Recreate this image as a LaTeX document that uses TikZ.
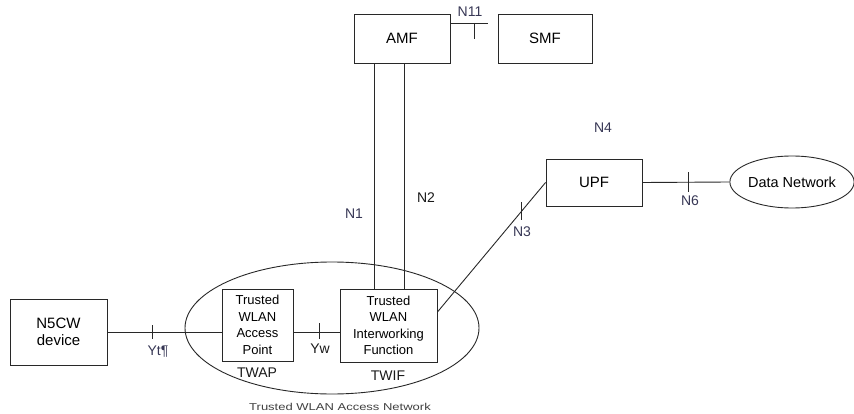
\documentclass[tikz,border=0pt]{standalone}
\usepackage{fontspec}
\setmainfont{Liberation Sans}
\usetikzlibrary{shapes.geometric,calc}
\definecolor{linec}{RGB}{40,40,40}
\definecolor{lblc}{RGB}{55,55,85}
\tikzset{
  box/.style={draw=linec, line width=0.9pt, rectangle, inner sep=0pt, align=center,
    font=\fontsize{13}{16.5}\selectfont, text=black},
  bigbox/.style={box, font=\fontsize{15}{17}\selectfont},
  oval/.style={draw=linec, line width=0.9pt, ellipse, inner sep=0pt, align=center,
    font=\fontsize{14.5}{17}\selectfont},
  conn/.style={draw=linec, line width=0.9pt},
  lbl/.style={font=\fontsize{14}{16}\selectfont, text=lblc, inner sep=0pt},
  lblb/.style={font=\fontsize{14}{16}\selectfont, text=black!90, inner sep=0pt},
}
\begin{document}
\begin{tikzpicture}[x=1pt,y=-1pt]
\useasboundingbox (0,0) rectangle (854,414);
% ellipses
\node[oval, minimum width=294, minimum height=132] (TWAN) at (332,328) {};
\node[oval, minimum width=120, minimum height=52] (DN) at (792,182) {Data Network};
% boxes
\node[bigbox, minimum width=96, minimum height=49] (AMF) at (402,38.5) {AMF};
\node[bigbox, minimum width=94, minimum height=49] (SMF) at (545,38.5) {SMF};
\node[bigbox, minimum width=96, minimum height=47] (UPF) at (594,182.5) {UPF};
\node[bigbox, minimum width=97, minimum height=66] (N5CW) at (58.5,332) {N5CW\\device};
\node[box, minimum width=71, minimum height=72] (TWAP) at (257.5,325) {Trusted\\WLAN\\Access\\Point};
\node[box, minimum width=97, minimum height=73] (TWIF) at (388.5,325.5) {Trusted\\WLAN\\Interworking\\Function};
% N11
\coordinate (n11end) at (488,23);
\draw[conn] (AMF.east |- n11end) -- (n11end);
\coordinate (n11t) at (474,23);
\draw[conn] (n11t) -- ($(n11t)+(0,16)$);
% N1, N2
\draw[conn] ($(AMF.south)+(-28,0)$) -- ($(TWIF.north)+(-14.5,0)$);
\draw[conn] ($(AMF.south)+(2,0)$) -- ($(TWIF.north)+(15.5,0)$);
% N3
\draw[conn] ($(TWIF.east)+(0,-13.5)$) -- coordinate[pos=0.78] (t3) (UPF.west);
\draw[conn] ($(t3)+(0,-9)$) -- ($(t3)+(0,9)$);
% N6
\draw[conn] (UPF.east) -- coordinate[pos=0.533] (t6) (DN.west);
\draw[conn] ($(t6)+(0,-10)$) -- ($(t6)+(0,10)$);
% Yt
\draw[conn] (N5CW.east) -- coordinate[pos=0.39] (tyt) (TWAP.west |- N5CW.east);
\draw[conn] ($(tyt)+(0,-7)$) -- ($(tyt)+(0,7)$);
% Yw
\draw[conn] ($(TWAP.east)+(0,7)$) -- coordinate[pos=0.574] (tyw) ($(TWIF.west)+(0,6.5)$);
\draw[conn] ($(tyw)+(0,-9)$) -- ($(tyw)+(0,7)$);
% labels
\node[lbl] (lN11) at (470,12) {N11};
\node[lbl] (lN1) at (354,214) {N1};
\node[lblb] (lN2) at (426,198) {N2};
\node[lbl] (lN4) at (603,128) {N4};
\node[lbl] (lN3) at (522,232) {N3};
\node[lbl] (lN6) at (690,201) {N6};
\node[lbl] (lYt) at (158,352) {Yt¶};
\node[lblb] (lYw) at (320,349) {Yw};
\node[lblb] (lTWAP) at (257,373) {TWAP};
\node[lblb] (lTWIF) at (388,376) {TWIF};
\node[font=\fontsize{10}{12}\selectfont, text=black!75, inner sep=0pt] (lTWAN) at (340,407) {\scalebox{1.3}[1]{Trusted WLAN Access Network}};
\end{tikzpicture}
\end{document}
